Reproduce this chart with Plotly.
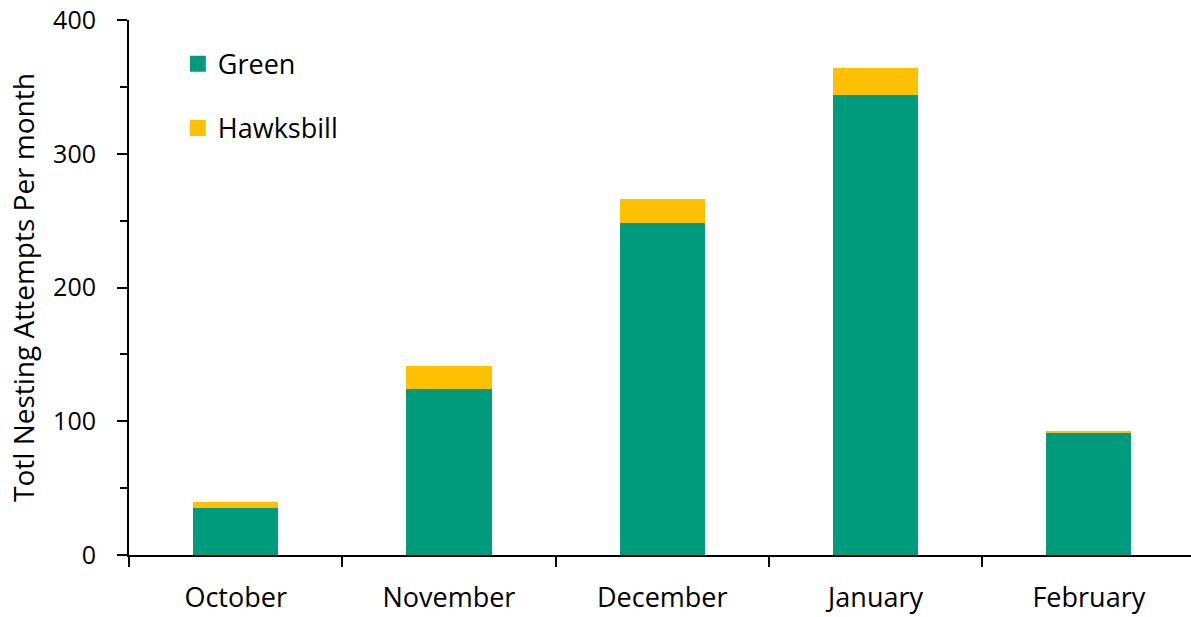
import plotly.graph_objects as go

months = ["October", "November", "December", "January", "February"]
green = [35, 124, 248, 344, 91]
hawksbill = [5, 17, 18, 20, 2]

GREEN_COLOR = "#009B7D"
HAWK_COLOR = "#FFC000"
FONT = "'Open Sans', sans-serif"

fig = go.Figure()
fig.add_trace(go.Bar(x=months, y=green, name="Green", marker_color=GREEN_COLOR,
                     marker_line_width=0, width=0.4, showlegend=False))
fig.add_trace(go.Bar(x=months, y=hawksbill, name="Hawksbill", marker_color=HAWK_COLOR,
                     marker_line_width=0, width=0.4, showlegend=False))

# legend entries with larger square swatches
for name, color, grp in [("Green", GREEN_COLOR, "g"), ("Hawksbill", HAWK_COLOR, "h")]:
    fig.add_trace(go.Scatter(x=[None], y=[None], mode="markers", name=name,
                             legendgroup=grp,
                             marker=dict(symbol="square", size=18, color=color)))

fig.update_layout(
    width=1191, height=617,
    barmode="stack",
    plot_bgcolor="white", paper_bgcolor="white",
    margin=dict(l=129, r=0, t=20, b=62),
    font=dict(family=FONT, size=25, color="black"),
    showlegend=True,
    legend=dict(x=0.046, y=0.963, xanchor="left", yanchor="top",
                traceorder="grouped", tracegroupgap=26, itemsizing="trace",
                font=dict(size=27), bgcolor="rgba(0,0,0,0)"),
    xaxis=dict(
        type="category", range=[-0.5, 4.479],
        showline=True, linecolor="black", linewidth=2,
        ticks="outside", tickson="boundaries", ticklen=10, tickwidth=1.5,
        tickcolor="black", showgrid=False, tickfont=dict(size=27),
        ticklabelstandoff=18,
    ),
    yaxis=dict(
        range=[0, 400], tickvals=[0, 100, 200, 300, 400],
        showline=True, linecolor="black", linewidth=2,
        ticks="outside", ticklen=10, tickwidth=2, tickcolor="black",
        minor=dict(tickvals=[50, 150, 250, 350], ticks="outside",
                   ticklen=7, tickwidth=1.5, tickcolor="black"),
        showgrid=False, zeroline=False, tickfont=dict(size=25),
        ticklabelstandoff=16,
        title=dict(text="Totl Nesting Attempts Per month", font=dict(size=28),
                   standoff=10),
    ),
)

fig.write_html("out.html")
